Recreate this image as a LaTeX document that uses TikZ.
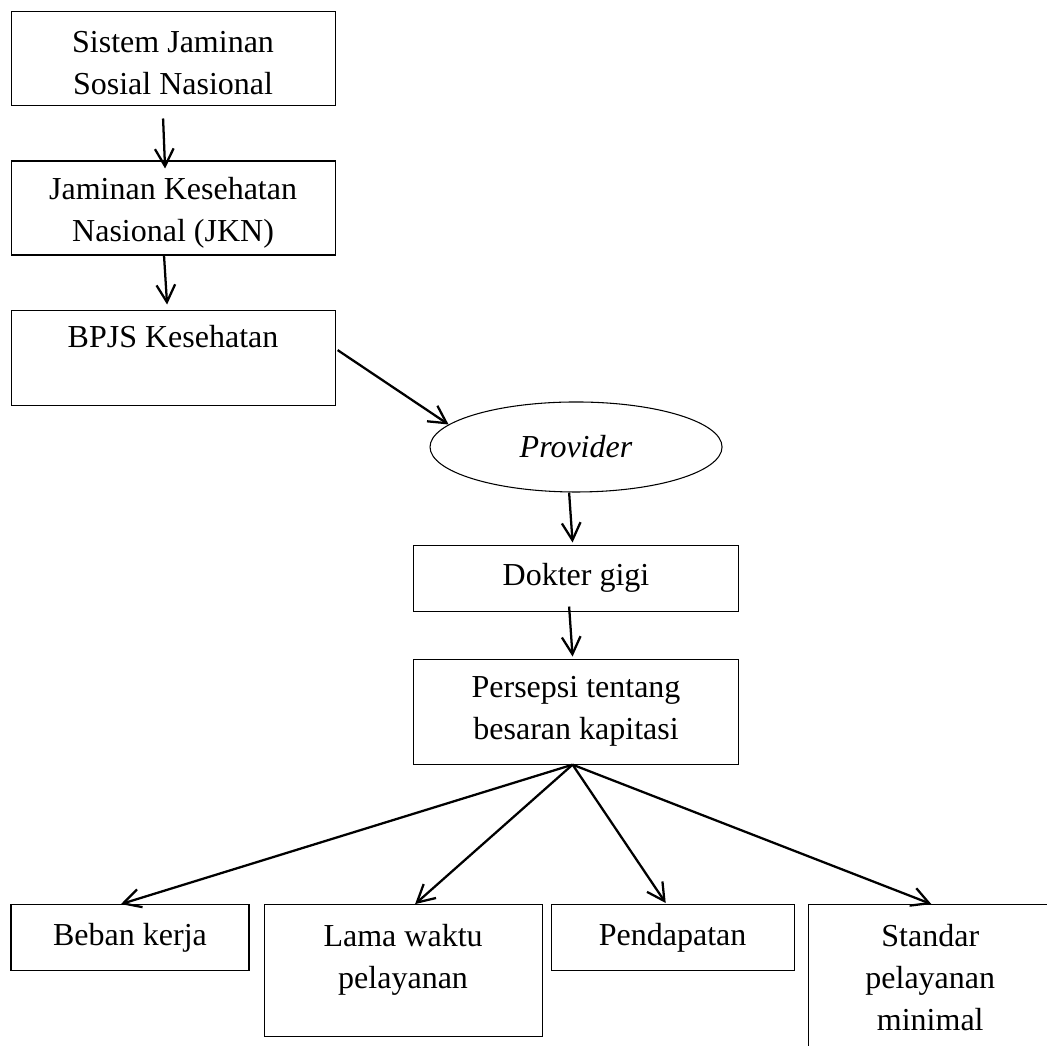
\documentclass[tikz,border=0pt]{standalone}
\usepackage{fontspec}
\setmainfont{Liberation Serif}
\usetikzlibrary{positioning, arrows.meta, shapes.geometric}

\begin{document}
\begin{tikzpicture}[font=\fontsize{12pt}{15.75pt}\selectfont, node distance=20.25pt,
    box/.style={draw, line width=0.4pt, align=center, inner sep=0pt},
    arr/.style={-{Straight Barb[length=6.5pt, width=7pt]}, line width=0.85pt}]
    \useasboundingbox (0,0) rectangle (392.6pt,-391.9pt);
    \node[box, minimum width=121.5pt, minimum height=35.25pt] (sjsn) at (64.9pt,-22.1pt) {\rule{0pt}{11pt}Sistem Jaminan\\Sosial Nasional};
    \node[box, minimum width=121.5pt, minimum height=35.25pt, below=of sjsn] (jkn) {\rule{0pt}{12pt}Jaminan Kesehatan\\Nasional (JKN)};
    \node[box, minimum width=121.5pt, minimum height=35.6pt, below=of jkn] (bpjs) {BPJS Kesehatan\\\mbox{}};
    \node[draw, ellipse, line width=0.4pt, inner sep=0pt, minimum width=109.5pt, minimum height=33.75pt] (prov) at (216pt,-167.6pt) {\textit{Provider}};
    \node[box, minimum width=121.9pt, minimum height=24.75pt, below=19.5pt of prov] (dokter) {Dokter gigi};
    \node[box, minimum width=121.9pt, minimum height=39.4pt, below=17.6pt of dokter] (persepsi) {Persepsi tentang\\besaran kapitasi};
    % bottom row
    \node[box, minimum width=89.25pt, minimum height=24.75pt, anchor=north] (beban) at (48.75pt,-339pt) {Beban kerja};
    \node[box, minimum width=104.25pt, minimum height=49.5pt, right=5.25pt of beban.north east, anchor=north west] (lama) {Lama waktu\\pelayanan\\[-4.9pt]\mbox{}};
    \node[box, minimum width=91.1pt, minimum height=24.75pt, right=3pt of lama.north east, anchor=north west] (pend) {Pendapatan};
    \node[box, minimum width=91.5pt, minimum height=55.5pt, right=4.9pt of pend.north east, anchor=north west] (standar) {Standar\\pelayanan\\minimal\\[-14.6pt]\mbox{}};

    \draw[arr] ([xshift=-3.75pt, yshift=-4.5pt]sjsn.south) -- ([xshift=-3pt, yshift=-3pt]jkn.north);
    \draw[arr] ([xshift=-3.4pt]jkn.south) -- ([xshift=-2.25pt, yshift=1.9pt]bpjs.north);
    \draw[arr] ([xshift=0.75pt, yshift=2.8pt]bpjs.east) -- (prov.170);
    \draw[arr] ([xshift=-2.6pt]prov.south) -- ([xshift=-1.3pt, yshift=0.75pt]dokter.north);
    \draw[arr] ([xshift=-2.6pt, yshift=1.9pt]dokter.south) -- ([xshift=-1.3pt, yshift=0.75pt]persepsi.north);
    \draw[arr] ([xshift=-1.3pt]persepsi.south) -- ([xshift=-3.4pt]beban.north);
    \draw[arr] ([xshift=-1.3pt]persepsi.south) -- ([xshift=4.5pt]lama.north);
    \draw[arr] ([xshift=-1.3pt]persepsi.south) -- ([xshift=-2.6pt, yshift=0.4pt]pend.north);
    \draw[arr] ([xshift=-1.3pt]persepsi.south) -- ([xshift=0.4pt]standar.north);
\end{tikzpicture}
\end{document}
